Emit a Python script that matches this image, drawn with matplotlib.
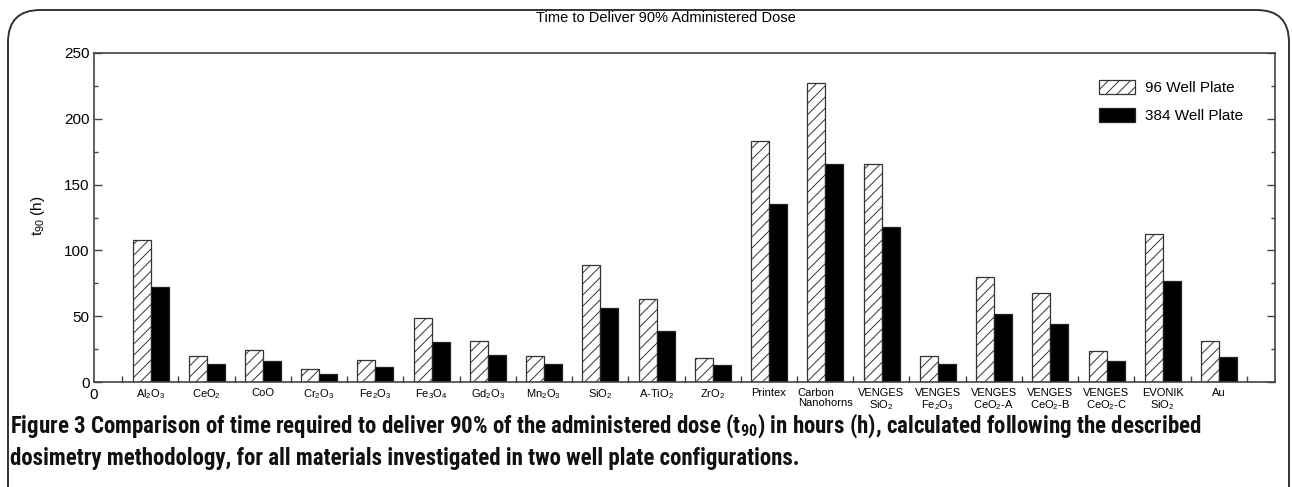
import matplotlib
matplotlib.use("Agg")
import matplotlib.pyplot as plt
import numpy as np
from matplotlib import font_manager as fm
from matplotlib.patches import FancyBboxPatch

categories = ["Al$_2$O$_3$", "CeO$_2$", "CoO", "Cr$_2$O$_3$", "Fe$_2$O$_3$", "Fe$_3$O$_4$",
              "Gd$_2$O$_3$", "Mn$_2$O$_3$", "SiO$_2$", "A-TiO$_2$", "ZrO$_2$", "Printex",
              "Carbon\nNanohorns", "VENGES\nSiO$_2$", "VENGES\nFe$_2$O$_3$", "VENGES\nCeO$_2$-A",
              "VENGES\nCeO$_2$-B", "VENGES\nCeO$_2$-C", "EVONIK\nSiO$_2$", "Au"]
well96 = [108, 20, 24, 9.6, 16.7, 49, 31.5, 19.7, 89, 62.7, 18.5, 183,
          227, 166, 20, 79.7, 67.8, 23.5, 112.8, 31]
well384 = [72, 13.7, 15.9, 6.3, 11.6, 30.6, 20.5, 13.4, 56, 39, 12.9, 135.5,
           165.5, 117.5, 13.7, 51.6, 43.8, 15.7, 77, 19.3]
series_labels = ["96 Well Plate", "384 Well Plate"]
y_ticks = [0, 50, 100, 150, 200, 250]

names = {f.name for f in fm.fontManager.ttflist}
cap_font = next((n for n in ["Liberation Sans Narrow", "Roboto Condensed", "Open Sans Condensed"]
                 if n in names), "Liberation Sans")

plt.rcParams["font.family"] = ["Liberation Sans", "DejaVu Sans"]
plt.rcParams["mathtext.fontset"] = "custom"
plt.rcParams["mathtext.rm"] = "Liberation Sans"
plt.rcParams["mathtext.it"] = "Liberation Sans"
plt.rcParams["mathtext.bf"] = cap_font + ":bold"
plt.rcParams["mathtext.default"] = "rm"
plt.rcParams["hatch.linewidth"] = 0.7
plt.rcParams["hatch.color"] = "#555555"

W, H = 1292, 487
fig = plt.figure(figsize=(W / 100, H / 100), dpi=100)

# rounded frame
frame = FancyBboxPatch((8 / W, -0.2), (1289 - 8) / W, 1.2 - 10 / H,
                       boxstyle="round,pad=0,rounding_size=0.025",
                       transform=fig.transFigure, fill=False, edgecolor="#333333",
                       linewidth=1.4, mutation_aspect=W / H)
fig.patches.append(frame)

ax = fig.add_axes([94 / W, 1 - 382 / H, (1275 - 94) / W, (382 - 53) / H])
x = np.arange(1, len(categories) + 1)
w = 0.32
ax.bar(x - 0.155, well96, w, color="white", edgecolor="#333333", hatch="///",
       linewidth=0.9, label=series_labels[0])
ax.bar(x + 0.165, well384, w, color="black", edgecolor="#222222",
       linewidth=0.9, label=series_labels[1])

ax.set_xlim(0, 21)
ax.set_ylim(0, 250)
for s in ax.spines.values():
    s.set_color("#444444")
    s.set_linewidth(1.2)

ax.set_yticks(y_ticks)
ax.set_yticks(np.arange(25, 250, 50), minor=True)
ax.tick_params(axis="y", which="major", direction="in", length=6, width=1,
               color="#444444", labelsize=11, pad=3, right=True)
ax.tick_params(axis="y", which="minor", direction="in", length=3, width=1,
               color="#444444", right=True)

ax.set_xticks(np.concatenate([[0], x]))
ax.set_xticklabels(["0"] + categories, linespacing=1.05)
ax.set_xticks(np.arange(0.5, 21, 1), minor=True)
ax.tick_params(axis="x", which="major", length=0, labelsize=8, pad=4)
ax.tick_params(axis="x", which="minor", direction="in", length=4, width=1,
               color="#444444")
lbls = ax.get_xticklabels()
lbls[0].set_fontsize(11)
for l in lbls:
    if l.get_text().startswith("Carbon"):
        l.set_multialignment("left")

fig.text(38 / W, 1 - 216 / H, "t$_{90}$ (h)", rotation=90, ha="center", va="center",
         fontsize=11)
fig.text(666 / W, 1 - 18 / H, "Time to Deliver 90% Administered Dose", ha="center",
         va="center", fontsize=10.5)

ax.legend(loc="upper left", bbox_to_anchor=(1099 / W, 1 - 80 / H),
          bbox_transform=fig.transFigure, frameon=False, fontsize=11,
          handlelength=2.35, handleheight=1.0, handletextpad=0.65,
          labelspacing=0.85, borderpad=0, borderaxespad=0)

line1 = ("Figure 3 Comparison of time required to deliver 90% of the administered dose "
         "($\\mathbf{t_{90}}$) in hours (h), calculated following the described")
line2 = "dosimetry methodology, for all materials investigated in two well plate configurations."
t1 = fig.text(10 / W, 1 - 433 / H, line1, ha="left", va="baseline", fontsize=14,
              family=[cap_font, "DejaVu Sans"], fontweight="bold", color="#111111")
t2 = fig.text(10 / W, 1 - 465 / H, line2, ha="left", va="baseline", fontsize=14,
              family=[cap_font, "DejaVu Sans"], fontweight="bold", color="#111111")
r = fig.canvas.get_renderer()
wid = t1.get_window_extent(r).width
fs = 14 * (1208 - 10) / wid
t1.set_fontsize(fs)
t2.set_fontsize(fs)

fig.savefig("out.png", dpi=100)
